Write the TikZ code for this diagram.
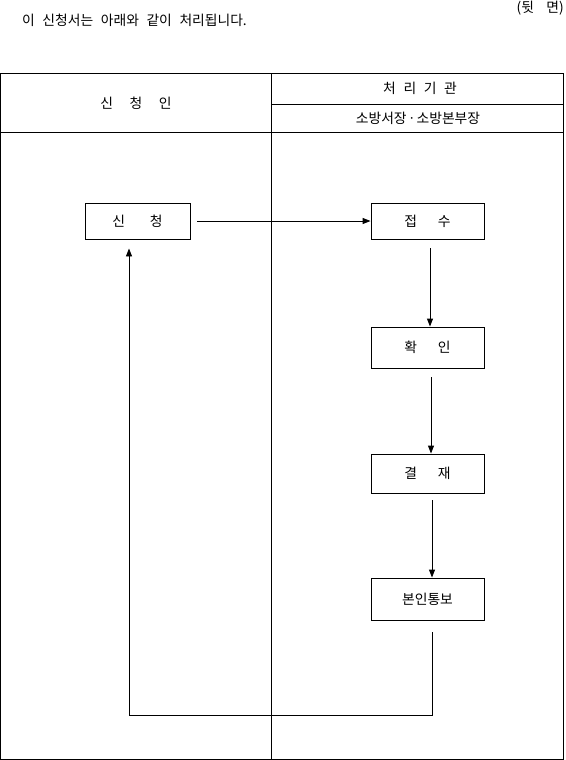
\documentclass[tikz,border=0pt]{standalone}
\usepackage{fontspec}
\setmainfont{Noto Sans CJK KR}
\usetikzlibrary{arrows.meta}
\begin{document}
\begin{tikzpicture}[x=1pt,y=-1pt,
  font=\fontsize{13.8}{15}\selectfont,
  line/.style={line width=0.9pt},
  flowbox/.style={draw,line width=0.9pt,minimum width=113pt,inner sep=0pt},
  arr/.style={line width=0.9pt,-{Triangle[length=8pt,width=6pt]}}]
\useasboundingbox (0,0) rectangle (565,760);
% title texts
\node[anchor=west,inner sep=0pt] (title) at (22,20) {\spaceskip=0.55em 이 신청서는 아래와 같이 처리됩니다.};
\node[anchor=east,inner sep=0pt] (back) at (564,8) {(뒷\hspace{0.9em}면)};
% table
\draw[line] (0.5,73.5) rectangle (563.5,759);
\draw[line] (0.5,132) -- (563.5,132);
\draw[line] (271,104) -- (563.5,104);
\draw[line] (271,73.5) -- (271,759);
\node (hdrA) at (136,103) {신\hspace{1.2em}청\hspace{1.2em}인};
\node (hdrB) at (420,88) {처\hspace{0.55em}리\hspace{0.55em}기\hspace{0.55em}관};
\node (hdrC) at (418,118) {소방서장{\kern-0.1em}ㆍ{\kern-0.1em}소방본부장};
% boxes
\node[flowbox,minimum width=105pt,minimum height=36pt] (apply) at (137.5,221) {신\hspace{1.8em}청};
\node[flowbox,minimum height=36pt] (recv) at (427.5,221) {접\hspace{1.5em}수};
\node[flowbox,minimum height=41pt] (check) at (427.5,347.5) {확\hspace{1.5em}인};
\node[flowbox,minimum height=39pt] (appr) at (427.5,473.5) {결\hspace{1.5em}재};
\node[flowbox,minimum height=42pt] (notify) at (427.5,599) {본인통보};
% arrows
\draw[arr,shorten <=7pt] (apply.east) -- (recv.west);
\draw[arr,shorten <=9pt] ([xshift=2.5pt]recv.south) -- ([xshift=2.5pt]check.north);
\draw[arr,shorten <=9pt] ([xshift=3.5pt]check.south) -- ([xshift=3.5pt]appr.north);
\draw[arr,shorten <=7pt] ([xshift=4.5pt]appr.south) -- ([xshift=4.5pt]notify.north);
\coordinate (c1) at (432,715);
\coordinate (c2) at (129,715);
\draw[arr,shorten <=12pt,shorten >=9pt] ([xshift=4.5pt]notify.south) -- (c1) -- (c2) -- (apply.south -| c2);
\end{tikzpicture}
\end{document}
